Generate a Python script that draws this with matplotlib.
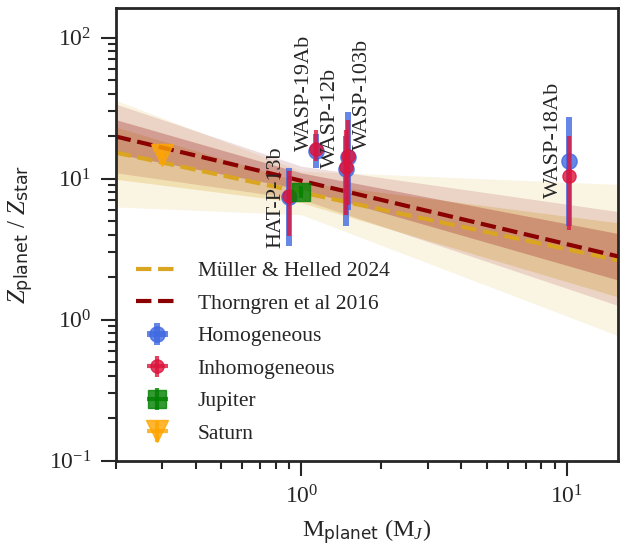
import matplotlib
matplotlib.use("Agg")
import matplotlib.pyplot as plt
import numpy as np

plt.rcParams['font.family'] = ['Liberation Serif', 'DejaVu Serif']
plt.rcParams['mathtext.fontset'] = 'custom'
plt.rcParams['mathtext.rm'] = 'Liberation Serif'
plt.rcParams['mathtext.it'] = 'Liberation Serif:italic'
plt.rcParams['mathtext.sf'] = 'DejaVu Sans'
plt.rcParams['text.color'] = '#262626'
plt.rcParams['axes.labelcolor'] = '#262626'
plt.rcParams['xtick.color'] = '#262626'
plt.rcParams['ytick.color'] = '#262626'

# ---------------- data ----------------
planets = ['HAT-P-13b', 'WASP-19Ab', 'WASP-12b', 'WASP-103b', 'WASP-18Ab']
planet_mass = [0.90, 1.14, 1.47, 1.50, 10.2]

homog_z = [7.35, 15.6, 11.7, 14.2, 13.4]
homog_lo = [3.35, 11.9, 4.6, 6.0, 4.6]
homog_hi = [11.8, 20.8, 20.0, 29.6, 27.3]

inhom_z = [7.5, 16.3, 12.0, 14.4, 10.5]
inhom_lo = [3.95, 13.4, 5.5, 6.5, 4.35]
inhom_hi = [11.4, 22.2, 22.2, 26.0, 20.1]

jupiter_mass, jupiter_z, jupiter_lo, jupiter_hi = 1.0, 8.0, 7.3, 8.8
saturn_mass, saturn_z, saturn_lo, saturn_hi = 0.30, 14.8, 14.0, 15.6

# relation lines (values at the plot edges)
line_mass = [0.2, 15.6]
muller_line = [15.3, 2.64]
thorngren_line = [19.9, 2.81]

# uncertainty envelopes
band_mass = [0.2, 1.0, 15.6]
muller_1s_lo = [9.9, 6.75, 1.45]
muller_1s_hi = [23.2, 9.45, 4.86]
muller_2s_lo = [6.3, 5.55, 0.77]
muller_2s_hi = [36.0, 11.3, 9.1]
thorngren_1s_lo = [15.0, 8.42, 1.91]
thorngren_1s_hi = [26.2, 10.98, 4.08]
thorngren_2s_lo = [11.0, 7.14, 1.26]
thorngren_2s_hi = [33.8, 12.26, 5.84]

# label anchor positions (right/bottom of rotated text)
label_mass = [0.873, 1.115, 1.405, 1.85, 9.7]
label_z = [3.24, 15.6, 11.9, 16.0, 7.32]

# ---------------- figure ----------------
fig = plt.figure(figsize=(6.21, 5.49), dpi=100)
ax = fig.add_axes([0.1863, 0.1608, 0.8089, 0.8246])

ax.fill_between(band_mass, muller_2s_lo, muller_2s_hi, color='goldenrod', alpha=0.12, lw=0)
ax.fill_between(band_mass, muller_1s_lo, muller_1s_hi, color='goldenrod', alpha=0.25, lw=0)
ax.fill_between(band_mass, thorngren_2s_lo, thorngren_2s_hi, color='darkred', alpha=0.13, lw=0)
ax.fill_between(band_mass, thorngren_1s_lo, thorngren_1s_hi, color='darkred', alpha=0.25, lw=0)

ax.plot(line_mass, muller_line, ls='--', color='goldenrod', lw=3, label='Müller & Helled 2024')
ax.plot(line_mass, thorngren_line, ls='--', color='darkred', lw=3, label='Thorngren et al 2016')

hz = np.array(homog_z)
ax.errorbar(planet_mass, homog_z, xerr=np.zeros((2, len(planets))),
            yerr=[hz - np.array(homog_lo), np.array(homog_hi) - hz],
            fmt='o', color='royalblue', alpha=0.8, ms=11, elinewidth=4.3,
            label='Homogeneous', zorder=5)
iz = np.array(inhom_z)
ax.errorbar(planet_mass, inhom_z, xerr=np.zeros((2, len(planets))),
            yerr=[iz - np.array(inhom_lo), np.array(inhom_hi) - iz],
            fmt='o', color='crimson', alpha=0.8, ms=9.5, elinewidth=3,
            label='Inhomogeneous', zorder=6)
ax.errorbar([jupiter_mass], [jupiter_z], xerr=[[0], [0]],
            yerr=[[jupiter_z - jupiter_lo], [jupiter_hi - jupiter_z]],
            fmt='s', color='green', alpha=0.8, ms=13.5, elinewidth=3,
            label='Jupiter', zorder=6)
ax.errorbar([saturn_mass], [saturn_z], xerr=[[0], [0]],
            yerr=[[saturn_z - saturn_lo], [saturn_hi - saturn_z]],
            fmt='v', color='orange', alpha=0.8, ms=16.5, elinewidth=3,
            label='Saturn', zorder=6)

for name, lm, lz in zip(planets, label_mass, label_z):
    ax.text(lm, lz, name, rotation=90, ha='right', va='bottom', fontsize=16,
            color='#262626', zorder=7)

ax.set_xscale('log')
ax.set_yscale('log')
ax.set_xlim(0.2, 15.6)
ax.set_ylim(0.1, 162)

for s in ax.spines.values():
    s.set_linewidth(2.0)
    s.set_color('#262626')
ax.tick_params(which='major', length=10.5, width=1.5, labelsize=17, pad=7)
ax.tick_params(which='minor', length=5.5, width=1.5)

ax.set_xlabel(r'M$_{\mathsf{planet}}$ (M$_J$)', fontsize=17.5, labelpad=6.5)
ax.set_ylabel(r'$Z_{\mathsf{planet}}$ / $Z_{\mathsf{star}}$', fontsize=18, labelpad=9)

leg = ax.legend(loc='lower left', bbox_to_anchor=(0.023, 0.018), borderaxespad=0,
                frameon=False, fontsize=15.5, handlelength=2.0, handletextpad=0.87,
                labelspacing=0.58)

fig.savefig('out.png', dpi=100)
